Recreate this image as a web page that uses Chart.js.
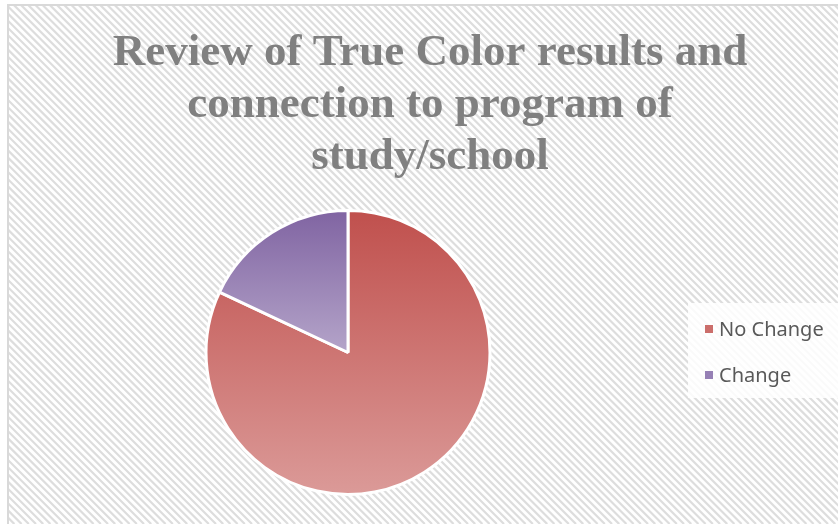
<!DOCTYPE html>
<html>
<head>
<meta charset="utf-8">
<script src="https://cdn.jsdelivr.net/npm/chart.js@4"></script>
<style>
html,body{margin:0;padding:0;background:#fff;}
#wrap{position:absolute;left:0;top:0;width:838px;height:524px;}
</style>
</head>
<body>
<div id="wrap"><canvas id="c" width="838" height="524"></canvas></div>
<script>
const titleLines = ["Review of True Color results and", "connection to program of", "study/school"];
const categories = ["No Change", "Change"];
const values = [82, 18];
const topColors = ["#C0504D", "#8064A2"];
const bottomColors = ["#DB9A98", "#B4A4C9"];
const legendSwatch = ["#CB6E6B", "#9680B5"];

function sliceGradient(ctx, i) {
  const chart = ctx.chart;
  const meta = chart.getDatasetMeta(0);
  const arc = meta.data[i];
  if (!chart.chartArea || !arc || !arc.outerRadius) return topColors[i];
  const p = arc.getProps(['x','y','startAngle','endAngle','outerRadius'], true);
  let ymin = p.y, ymax = p.y;
  const steps = 90;
  for (let k = 0; k <= steps; k++) {
    const a = p.startAngle + (p.endAngle - p.startAngle) * k / steps;
    const yy = p.y + p.outerRadius * Math.sin(a);
    ymin = Math.min(ymin, yy); ymax = Math.max(ymax, yy);
  }
  const g = chart.ctx.createLinearGradient(0, ymin, 0, ymax);
  g.addColorStop(0, topColors[i]);
  g.addColorStop(1, bottomColors[i]);
  return g;
}

const bgPlugin = {
  id: 'bg',
  beforeDraw(chart) {
    const c = chart.ctx;
    const W = chart.width, H = chart.height;
    c.save();
    c.fillStyle = '#ffffff';
    c.fillRect(0, 0, W, H);
    c.beginPath();
    c.rect(8, 5, W - 8, H - 5);
    c.clip();
    c.strokeStyle = '#dddddd';
    c.lineWidth = 2.2;
    for (let s = -H; s < W + H; s += 7.2) {
      c.beginPath();
      c.moveTo(s, 0);
      c.lineTo(s + H, H);
      c.stroke();
    }
    c.restore();
    c.save();
    c.strokeStyle = '#d9d9d9';
    c.lineWidth = 2;
    c.strokeRect(8, 5, W + 10, H + 10);
    c.fillStyle = 'rgba(255,255,255,0.85)';
    c.fillRect(688, 303, 150, 95);
    c.restore();
  },
  afterDraw(chart) {
    const c = chart.ctx;
    c.save();
    // title
    c.font = 'bold 45px "Liberation Serif"';
    c.fillStyle = '#808080';
    c.textAlign = 'center';
    c.textBaseline = 'alphabetic';
    const baselines = [65, 117, 169];
    titleLines.forEach((t, i) => c.fillText(t, 430, baselines[i]));
    // legend
    const ys = [329, 375];
    c.textAlign = 'left';
    c.font = '20px "Noto Sans"';
    c.textBaseline = 'middle';
    categories.forEach((lab, i) => {
      c.fillStyle = legendSwatch[i];
      c.fillRect(705, ys[i] - 4, 8, 8);
      c.fillStyle = '#595959';
      c.fillText(lab, 719, ys[i] + 1);
    });
    c.restore();
  }
};

const chart = new Chart(document.getElementById('c'), {
  type: 'pie',
  data: {
    labels: categories,
    datasets: [{
      data: values,
      backgroundColor: (ctx) => sliceGradient(ctx, ctx.dataIndex),
      borderColor: '#ffffff',
      borderWidth: 3
    }]
  },
  options: {
    responsive: false,
    animation: false,
    layout: { padding: { left: 0, right: 142, top: 209, bottom: 28 } },
    plugins: {
      title: { display: false },
      legend: { display: false },
      tooltip: { enabled: false }
    }
  },
  plugins: [bgPlugin]
});
chart.update();
</script>
</body>
</html>
